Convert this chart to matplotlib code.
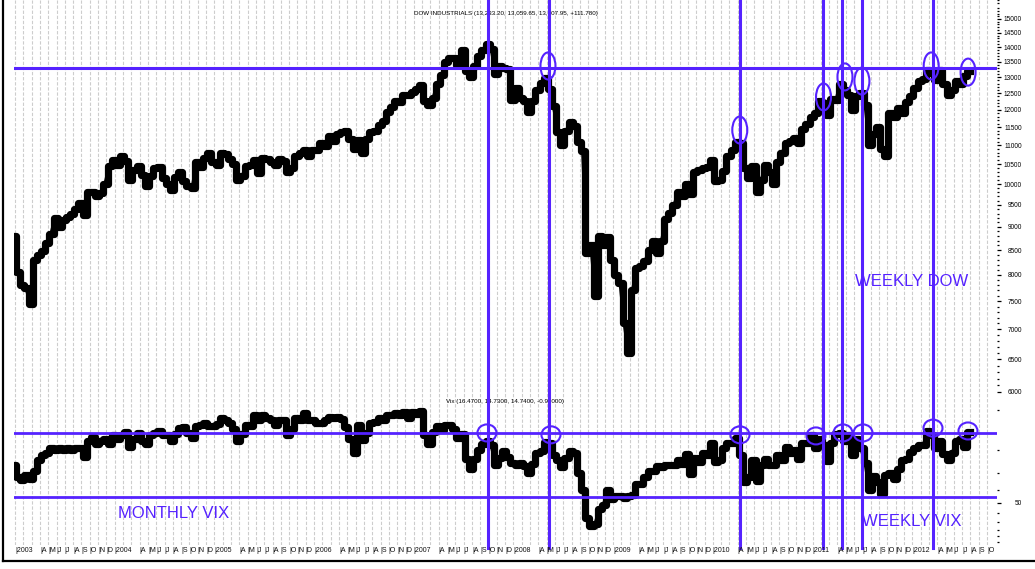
import numpy as np
import matplotlib
matplotlib.use("Agg")
import matplotlib.pyplot as plt
import matplotlib.transforms as mtrans
from matplotlib.patches import Ellipse
from matplotlib.lines import Line2D
from matplotlib.ticker import FixedLocator, FixedFormatter, NullFormatter

plt.rcParams['font.family'] = ['Liberation Sans', 'DejaVu Sans']

# ---------------- data (semi-monthly readings, Jan 2003 .. early Aug 2012) ----------------
dow = [
    # 2003
    8800, 8050, 7800, 7750, 7450, 8300, 8400, 8480, 8650, 8850, 9200, 8990,
    9150, 9230, 9300, 9415, 9550, 9275, 9800, 9800, 9700, 9780, 10000, 10450,
    # 2004
    10600, 10490, 10700, 10580, 10100, 10360, 10450, 10230, 9950, 10190, 10400, 10435,
    10150, 10000, 9850, 10170, 10300, 10080, 9950, 9900, 10550, 10430, 10650, 10780,
    # 2005
    10550, 10490, 10790, 10770, 10630, 10500, 10100, 10190, 10450, 10470, 10600, 10275,
    10650, 10640, 10550, 10480, 10640, 10570, 10300, 10400, 10700, 10805, 10880, 10720,
    # 2006
    10880, 10860, 11050, 10990, 11250, 11110, 11300, 11370, 11400, 11170, 10900, 11150,
    10800, 11180, 11350, 11380, 11550, 11680, 11950, 12080, 12250, 12220, 12450, 12460,
    # 2007
    12550, 12620, 12770, 12270, 12150, 12350, 12800, 13060, 13500, 13630, 13640, 13410,
    13900, 13210, 13000, 13360, 13700, 13900, 14100, 13930, 13100, 13370, 13300, 13260,
    # 2008
    12300, 12650, 12350, 12270, 11950, 12260, 12600, 12820, 12990, 12640, 12100, 11350,
    11000, 11380, 11650, 11540, 11100, 10850, 8450, 8600, 7600, 8800, 8600, 8780,
    # 2009
    8300, 8000, 7850, 7100, 6600, 7700, 8130, 8170, 8270, 8500, 8700, 8450,
    8700, 9170, 9320, 9500, 9800, 9710, 10000, 9750, 10300, 10340, 10400, 10430,
    # 2010
    10600, 10070, 10100, 10320, 10700, 10860, 11100, 11050, 10400, 10140, 10450, 9800,
    10100, 10470, 10300, 10010, 10550, 10790, 11060, 11120, 11200, 11050, 11450, 11580,
    # 2011
    11800, 11900, 12250, 12200, 11850, 12320, 12300, 12800, 12600, 12440, 12000, 12400,
    12500, 12140, 11000, 11300, 11500, 10900, 10700, 11900, 11800, 12050, 11900, 12220,
    # 2012
    12420, 12660, 12880, 12950, 13230, 13150, 12900, 13220, 12800, 12450, 12600, 12880,
    12780, 13050, 13210,
]

vix = [
    # 2003
    26, 32, 34, 31, 33, 29, 24, 22, 21, 19.5, 20, 19.5,
    20, 19.5, 20, 19.5, 19.5, 22.5, 17, 16, 18, 17, 16.5, 18,
    # 2004
    15.5, 16.5, 15.5, 14.6, 19, 16.7, 15, 17, 18, 15.5, 15, 14.5,
    15.5, 15.5, 17, 15.3, 13.7, 13.5, 15, 16.3, 13.2, 13, 12.5, 13.3,
    # 2005
    13.2, 12.8, 11.5, 12, 12.5, 14, 17, 15.3, 13, 13.3, 11, 12,
    11, 11.5, 12, 13, 12, 12, 15.5, 14, 11.5, 12, 10.5, 12,
    # 2006
    12, 12.5, 12.5, 12, 11.3, 11.4, 11.2, 11.6, 13.5, 16.5, 21, 13,
    16.8, 14.9, 12.5, 12.3, 11.5, 11.9, 11, 11, 10.5, 10.9, 10.3, 11.5,
    # 2007
    10.3, 10.7, 10.2, 15.4, 18, 14.6, 13.3, 14.2, 13, 13, 14, 16.2,
    15.2, 23.5, 28, 23.4, 20, 18, 17, 18.5, 26, 22.9, 20.5, 22.5,
    # 2008
    25, 26.2, 25, 26.5, 30, 25.6, 21, 20.5, 17.5, 17.8, 22, 23.9,
    27, 22.9, 20.5, 21, 30, 40, 65, 75, 72, 56, 52, 40,
    # 2009
    47, 44.8, 45, 46.3, 45, 44, 36, 36.5, 32, 28.9, 29, 26.4,
    27, 25.9, 25.9, 26, 24, 25.6, 21.5, 30.7, 23, 24.5, 21, 21.7,
    # 2010
    17.9, 24.6, 24, 19.5, 17.6, 17.6, 16.2, 22, 35, 32, 24, 34.5,
    26, 23.5, 26, 26, 22, 23.7, 19, 21.2, 20, 23.5, 17.6, 17.7,
    # 2011
    15.5, 19.5, 16.5, 18.3, 24.3, 17.7, 15.3, 14.8, 17, 15.5, 21.8, 16.5,
    19.5, 25.2, 40, 31.6, 35, 43, 31, 30, 33, 27.8, 24, 23.4,
    # 2012
    20.9, 19.4, 18.5, 18.4, 14.5, 15.5, 19.5, 17.2, 21.5, 24, 21, 17.1,
    16.7, 18.9, 14.7,
]

dow_level = 13300          # horizontal resistance on the DOW
vix_levels = [14.9, 45.4]  # horizontal levels on the VIX
marker_dates = [2007.775, 2008.386, 2010.302, 2011.134, 2011.325, 2011.525, 2012.237]
dow_circles = [(2008.376, 13365), (2010.30, 11418), (2011.14, 12385), (2011.355, 13010),
               (2011.525, 12877), (2012.22, 13365), (2012.59, 13165)]
vix_circles = [(2007.764, 14.9), (2008.406, 15.4), (2010.302, 15.4), (2011.064, 15.7),
               (2011.335, 14.9), (2011.536, 14.9), (2012.238, 13.7), (2012.589, 14.4)]

dow_ticks = list(range(6000, 15001, 500))
vix_ticks = [10, 20, 30, 40, 50, 60, 70, 80, 90, 100]

dow_title = "DOW INDUSTRIALS (13,233.20, 13,059.65, 13,207.95, +111.780)"
vix_title = "Vix (16.4700, 14.7300, 14.7400, -0.90000)"
month_letters = ['', 'F', 'M', 'A', 'M', 'J', 'J', 'A', 'S', 'O', 'N', 'D']

# ---------------- layout ----------------
W, H = 1035, 569
BLUE = '#5522ff'
fig = plt.figure(figsize=(W / 100, H / 100), dpi=100)


def fx(px):
    return px / W


def fy(py):
    return 1 - py / H


L, R = 14, 997
XMIN, XMAX = 2003.02, 2012.88

bg = fig.add_axes([fx(L), fy(545), fx(R - L), 545 / H])
ax1 = fig.add_axes([fx(L), fy(397), fx(R - L), 397 / H])
ax2 = fig.add_axes([fx(L), fy(545), fx(R - L), (545 - 397) / H])
ov = fig.add_axes([fx(L), fy(545), fx(R - L), 545 / H])

for a in (bg, ax1, ax2, ov):
    a.set_xlim(XMIN, XMAX)
    a.set_facecolor('none')
    for s in a.spines.values():
        s.set_visible(False)
    a.set_xticks([])
bg.set_yticks([])
ov.set_yticks([])
bg.set_ylim(0, 1)
ov.set_ylim(0, 1)

# monthly grid + labels
grid_x = []
labels = []
for y in range(2003, 2013):
    for m in range(1, 13):
        if y == 2012 and m > 10:
            break
        xm = y + (m - 1) / 12 + 0.03
        grid_x.append(xm)
        if m == 1:
            labels.append((xm, str(y)))
        elif m >= 4:
            labels.append((xm, month_letters[m - 1]))
bg.vlines(grid_x, 0, 1, colors='#cdcdcd', linewidth=0.8, linestyles=(0, (3, 1.6)))
btrans = mtrans.blended_transform_factory(bg.transData, fig.transFigure)
for xm, lab in labels:
    fig.text(xm, fy(551), '|' + lab, transform=btrans, ha='left', va='center',
             fontsize=5, color='#111111')

t = 2003 + (np.arange(len(dow)) + 0.5) / 24
tv = 2003 + (np.arange(len(vix)) + 0.5) / 24

# ---------------- DOW panel ----------------
ax1.plot(t, dow, color='black', lw=5.2, drawstyle='steps-mid', zorder=3)
ax1.plot(t, dow, color='black', lw=3.0, zorder=3)
ax1.set_yscale('log')
ax1.set_ylim(15000 * np.exp(-378 / 407), 15000 * np.exp(19 / 407))
ax1.axhline(dow_level, color=BLUE, lw=2.2, zorder=5)
ax1.yaxis.tick_right()
ax1.yaxis.set_major_locator(FixedLocator(dow_ticks))
ax1.yaxis.set_major_formatter(FixedFormatter([str(v) for v in dow_ticks]))
ax1.yaxis.set_minor_locator(FixedLocator([v for v in range(5900, 15800, 100) if v % 500]))
ax1.yaxis.set_minor_formatter(NullFormatter())
ax1.tick_params(axis='y', which='major', length=3, width=0.9, pad=15, labelsize=4.7,
                direction='out', colors='black')
ax1.tick_params(axis='y', which='minor', length=1.4, width=0.9, direction='out')
plt.setp(ax1.yaxis.get_majorticklabels(), ha='right')
ax1.text(0.5, 1 - 13 / 397, dow_title, transform=ax1.transAxes,
         ha='center', va='center', fontsize=4.5)

# ---------------- VIX panel ----------------
ax2.plot(tv, vix, color='black', lw=5.2, drawstyle='steps-mid', zorder=3)
ax2.plot(tv, vix, color='black', lw=3.0, zorder=3)
ax2.set_yscale('log')
ax2.set_ylim(10 * np.exp((545 - 410) / 57.5), 10 * np.exp((397 - 410) / 57.5))
for lv in vix_levels:
    ax2.axhline(lv, color=BLUE, lw=2.0, zorder=5)
ax2.yaxis.tick_right()
ax2.yaxis.set_major_locator(FixedLocator([50]))
ax2.yaxis.set_major_formatter(FixedFormatter(['50']))
ax2.yaxis.set_minor_locator(FixedLocator([v for v in vix_ticks if v != 50]))
ax2.yaxis.set_minor_formatter(NullFormatter())
ax2.tick_params(axis='y', which='major', length=3, width=0.9, pad=15, labelsize=4.7,
                direction='out')
ax2.tick_params(axis='y', which='minor', length=1.4, width=0.9, direction='out')
plt.setp(ax2.yaxis.get_majorticklabels(), ha='right')
ax2.text(0.5, 1 - 4 / 148, vix_title, transform=ax2.transAxes,
         ha='center', va='center', fontsize=4.5)

# ---------------- annotations ----------------
for xd in marker_dates:
    ov.axvline(xd, ymin=-3 / 545, ymax=1, color=BLUE, lw=2.2, clip_on=False)

inv = fig.transFigure.inverted()


def add_ellipse(ax, x, y, w, h):
    cx, cy = inv.transform(ax.transData.transform((x, y)))
    e = Ellipse((cx, cy), w / W, h / H, transform=fig.transFigure,
                fill=False, edgecolor=BLUE, lw=1.5)
    fig.add_artist(e)


for x, y in dow_circles:
    add_ellipse(ax1, x, y, 15, 27)
for x, y in vix_circles:
    add_ellipse(ax2, x, y, 19, 17)

fig.text(fx(855), fy(282), 'WEEKLY DOW', color=BLUE, fontsize=12, ha='left', va='center')
fig.text(fx(118), fy(513), 'MONTHLY VIX', color=BLUE, fontsize=12, ha='left', va='center')
fig.text(fx(862), fy(522), 'WEEKLY VIX', color=BLUE, fontsize=12, ha='left', va='center')

# outer frame (left and bottom)
fig.add_artist(Line2D([fx(3), fx(3)], [fy(0), fy(561)], color='black', lw=1.6,
                      transform=fig.transFigure))
fig.add_artist(Line2D([fx(3), fx(1035)], [fy(561), fy(561)], color='black', lw=1.6,
                      transform=fig.transFigure))

fig.savefig('out.png', dpi=100)
